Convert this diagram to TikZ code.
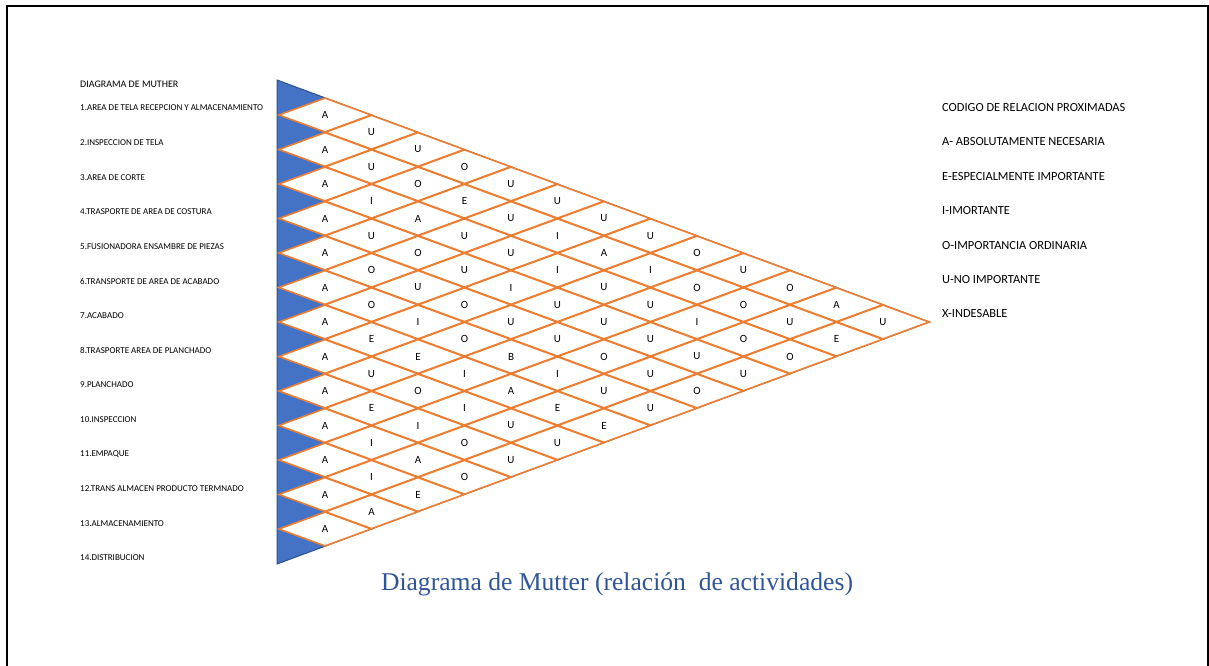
\documentclass[tikz,border=0pt]{standalone}
\usepackage{fontspec}
\setmainfont{Carlito}
\newfontfamily\captionfont{Liberation Serif}
\usepackage{tikz}
\usetikzlibrary{shapes.geometric}
\definecolor{muthorange}{HTML}{ED7D31}
\definecolor{muthblue}{HTML}{4472C4}
\definecolor{muthdarkblue}{HTML}{2F528F}
\definecolor{capblue}{HTML}{2F5597}
\tikzset{
  cell/.style={diamond,draw=muthorange,fill=white,line width=1.6pt,minimum width=93pt,minimum height=34.5pt,inner sep=0pt,font=\fontsize{11}{12}\selectfont},
  dept/.style={anchor=west,inner sep=0pt,font=\fontsize{9}{10}\selectfont},
  code/.style={anchor=west,inner sep=0pt,font=\fontsize{12.4}{14}\selectfont}
}

\begin{document}
\begin{tikzpicture}[x=1pt,y=-1pt]
          \useasboundingbox (0,0) rectangle (1209,666);
          \draw[line width=2pt] (7,666) -- (7,6) -- (1208,6) -- (1208,666);
          \node[anchor=west,inner sep=0pt,font=\fontsize{10}{12}\selectfont] (titulo) at (80,84) {DIAGRAMA DE MUTHER};
          \foreach \t [count=\i] in {1.AREA DE TELA RECEPCION Y ALMACENAMIENTO,2.INSPECCION DE TELA,3.AREA DE CORTE,4.TRASPORTE DE AREA DE COSTURA,5.FUSIONADORA ENSAMBRE DE PIEZAS,6.TRANSPORTE DE AREA DE ACABADO,7.ACABADO,8.TRASPORTE AREA DE PLANCHADO,9.PLANCHADO,10.INSPECCION,11.EMPAQUE,12.TRANS ALMACEN PRODUCTO TERMNADO,13.ALMACENAMIENTO,14.DISTRIBUCION}{
            \node[dept] (dep\i) at (80,{108+34.6*(\i-1)}) {\t};}
          \filldraw[fill=muthblue,draw=muthdarkblue,line width=1pt] (277,80) -- (277,564) -- (929.5,322) -- cycle;
          \foreach \row [count=\i from 0] in {{A,U,U,O,U,U,U,U,O,U,O,A,U},{A,U,O,E,U,I,A,I,O,O,U,E},{A,I,A,U,U,I,U,U,I,O,O},{A,U,O,U,I,U,U,U,U,U},{A,O,U,O,U,U,O,U,O},{A,O,I,O,B,I,U,U},{A,E,E,I,A,E,E},{A,U,O,I,U,U},{A,E,I,O,U},{A,I,A,O},{A,I,E},{A,A},{A}}{
            \foreach \l [count=\c from 0] in \row{
              \node[cell] (d\i-\c) at ({325+46.5*\c},{115+17.25*\c+34.5*\i}) {\l};}}
          \foreach \t [count=\i from 0] in {CODIGO DE RELACION PROXIMADAS,A- ABSOLUTAMENTE NECESARIA,E-ESPECIALMENTE IMPORTANTE,I-IMORTANTE,O-IMPORTANCIA ORDINARIA,U-NO IMPORTANTE,X-INDESABLE}{
            \node[code] (cod\i) at (942,{107.5+34.4*\i}) {\t};}
          \node[text=capblue,font=\captionfont\fontsize{25.6}{30}\selectfont] (pie) at (617,584) {Diagrama de Mutter (relación\ \ de actividades)};
        \end{tikzpicture}
\end{document}
